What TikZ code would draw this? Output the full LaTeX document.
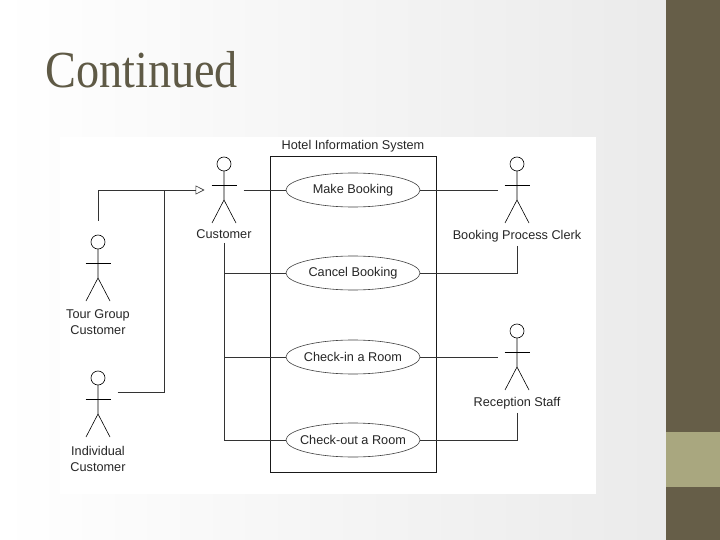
\documentclass[tikz,border=0pt]{standalone}
\usepackage{fontspec}
\setmainfont{Liberation Sans}
\newfontfamily\slidefont{Liberation Serif}
\usetikzlibrary{shapes.geometric,arrows.meta,positioning}
\definecolor{OliveDark}{RGB}{102,94,72}
\definecolor{OliveLight}{RGB}{169,167,127}
\definecolor{TitleInk}{RGB}{95,90,70}
\newcommand{\umlfont}{\fontsize{12.7}{16}\selectfont}

\begin{document}
\begin{tikzpicture}[
    x=1pt, y=-1pt,
    actor/.style={rectangle, inner sep=0pt, outer xsep=6pt, outer ysep=0pt, minimum width=27pt, minimum height=68pt,
        path picture={
            \path (path picture bounding box.north) coordinate (t);
            \draw[line width=0.6pt] ([yshift=-8pt]t) circle[radius=7pt];
            \draw[line width=0.6pt] ([yshift=-15pt]t) -- ([yshift=-44pt]t) -- ([xshift=-12pt,yshift=-67pt]t);
            \draw[line width=0.6pt] ([yshift=-44pt]t) -- ([xshift=12pt,yshift=-67pt]t);
            \draw[line width=0.6pt] ([xshift=-12.5pt,yshift=-29pt]t) -- ([xshift=12.5pt,yshift=-29pt]t);
        }},
    lbl/.style={inner sep=1pt, outer sep=3pt, align=center, font=\umlfont, text=black!85},
    usecase/.style={ellipse, draw=black!75, line width=0.6pt, inner xsep=-15pt, inner ysep=0pt, minimum width=134pt, minimum height=34pt, font=\umlfont, text=black!85},
    assoc/.style={draw=black!80, line width=0.6pt},
    gen/.style={assoc, -{Triangle[open, length=9pt, width=9pt]}}
]
    \useasboundingbox (0,0) rectangle (720,540);
    \fill[left color=white, right color=black!8] (0,0) rectangle (666,540);
    \fill[OliveDark] (666,0) rectangle (720,540);
    \fill[OliveLight] (666,432) rectangle (720,487);
    \fill[white] (60,137) rectangle (596,494);

    \node[anchor=base west, text=TitleInk, inner sep=0pt] (title) at (45,88) {\slidefont\fontsize{52}{60}\selectfont\scalebox{0.89}[1]{Continued}};

    \node[draw=black!90, line width=0.6pt, minimum width=166pt, minimum height=316pt] (sys) at (353,314.5) {};
    \node[lbl, above=0pt of sys] (sys-l) {Hotel Information System};

    \node[usecase] (mb) at (353,190) {Make Booking};
    \node[usecase] (cb) at (353,273) {Cancel Booking};
    \node[usecase] (ci) at (353,357) {Check-in a Room};
    \node[usecase] (co) at (353,440) {Check-out a Room};

    \node[actor] (cust) at (224,190) {};
    \node[lbl, below=2pt of cust] (cust-l) {Customer};
    \node[actor] (tour) at (98,268) {};
    \node[lbl, below=4pt of tour] (tour-l) {Tour Group\\Customer};
    \node[actor] (indiv) at (98,404) {};
    \node[lbl, below=4pt of indiv] (indiv-l) {Individual\\Customer};
    \node[actor] (clerk) at (517,190) {};
    \node[lbl, below=2pt of clerk] (clerk-l) {Booking Process Clerk};
    \node[actor] (recep) at (517,357) {};
    \node[lbl, below=2pt of recep] (recep-l) {Reception Staff};

    \coordinate (gjoin) at (164,190);

    \draw[gen] ([yshift=13pt]tour.north) |- (cust.west);
    \draw[assoc] ([yshift=12pt]indiv.east) -| (gjoin);

    \draw[assoc] (cust.east) -- (mb.west);
    \draw[assoc] (cust-l.south) |- (co.west);
    \draw[assoc] (cust-l.south |- cb.west) -- (cb.west);
    \draw[assoc] (cust-l.south |- ci.west) -- (ci.west);

    \draw[assoc] (mb.east) -- (clerk.west);
    \draw[assoc] (clerk-l.south) |- (cb.east);
    \draw[assoc] (ci.east) -- (recep.west);
    \draw[assoc] (recep-l.south) |- (co.east);
\end{tikzpicture}
\end{document}
